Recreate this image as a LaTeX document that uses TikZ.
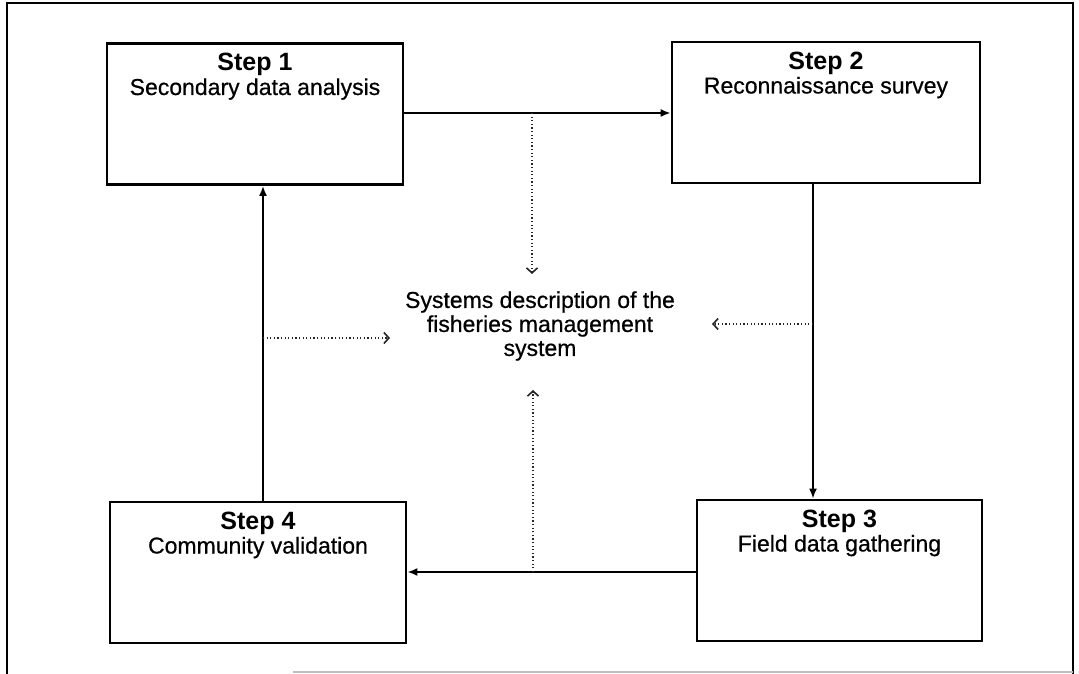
\documentclass[tikz,border=0pt]{standalone}
\usepackage{fontspec}
\setmainfont{Liberation Sans}
\usetikzlibrary{arrows.meta,calc}

\tikzset{
  stepbox/.style={draw=black, line width=2.8pt, minimum width=#1, minimum height=141pt, inner sep=0pt},
  stepbox/.default=296pt,
  steptitle/.style={anchor=base, font=\fontsize{25}{28}\selectfont\bfseries, inner sep=0pt},
  stepname/.style={anchor=base, font=\fontsize{23}{27}\selectfont\addfontfeature{FakeBold=0.6}, inner sep=0pt},
  flow/.style={line width=1.8pt, -{Latex[length=10pt,width=8pt]}},
  feed/.style={line width=1.2pt, black!85, dash pattern=on 1.2pt off 2.4pt,
               -{Straight Barb[length=5pt,width=11pt,line width=1.6pt]}},
  framestroke/.style={line width=2pt, black}
}

\begin{document}
\begin{tikzpicture}[x=1pt, y=-1pt]
  \useasboundingbox (0,0) rectangle (1079,674);

  % outer frame
  \draw[framestroke] (7,674) -- (7,3) -- (1073,3) -- (1073,674);
  \draw[line width=1.4pt, black!25] (293,672) -- (1073,672);

  % the four steps
  \node[stepbox] (b1) at (255,114) {};
  \node[stepbox=308pt] (b2) at (826,112.5) {};
  \node[stepbox=285pt] (b3) at (839.5,570.5) {};
  \node[stepbox] (b4) at (258,572.5) {};

  \node[steptitle] (t1) at ($(b1.center)+(0,-43)$) {Step 1};
  \node[stepname]  (n1) at ($(b1.center)+(0,-19)$) {Secondary data analysis};
  \node[steptitle] (t2) at ($(b2.center)+(0,-43)$) {Step 2};
  \node[stepname]  (n2) at ($(b2.center)+(0,-19)$) {Reconnaissance survey};
  \node[steptitle] (t3) at ($(b3.center)+(0,-43)$) {Step 3};
  \node[stepname]  (n3) at ($(b3.center)+(0,-19)$) {Field data gathering};
  \node[steptitle] (t4) at ($(b4.center)+(0,-43)$) {Step 4};
  \node[stepname]  (n4) at ($(b4.center)+(0,-19)$) {Community validation};

  % central description
  \node[align=center, font=\fontsize{23}{24}\selectfont\addfontfeature{FakeBold=0.6}, inner sep=0pt] (sys) at (540,326)
    {Systems description of the\\fisheries management\\system};

  % guide coordinates for the connectors
  \coordinate (r12) at (0,113);
  \coordinate (c23) at (813,0);
  \coordinate (r34) at (0,572);
  \coordinate (c41) at (263,0);

  % main cycle
  \draw[flow] (b1.east |- r12) -- (b2.west |- r12);
  \draw[flow] (b2.south -| c23) -- (b3.north -| c23);
  \draw[flow] (b3.west |- r34) -- (b4.east |- r34);
  \draw[flow] (b4.north -| c41) -- (b1.south -| c41);

  % dotted feeds into the system description
  \coordinate (f1s) at (532,113);
  \coordinate (f1e) at (532,274);
  \coordinate (f2s) at (813,324);
  \coordinate (f2e) at (712,324);
  \coordinate (f3s) at (533,572);
  \coordinate (f3e) at (533,390);
  \coordinate (f4s) at (263,338);
  \coordinate (f4e) at (390,338);

  \draw[feed] (f1s) -- (f1e);
  \draw[feed] (f2s) -- (f2e);
  \draw[feed] (f3s) -- (f3e);
  \draw[feed] (f4s) -- (f4e);
\end{tikzpicture}
\end{document}
